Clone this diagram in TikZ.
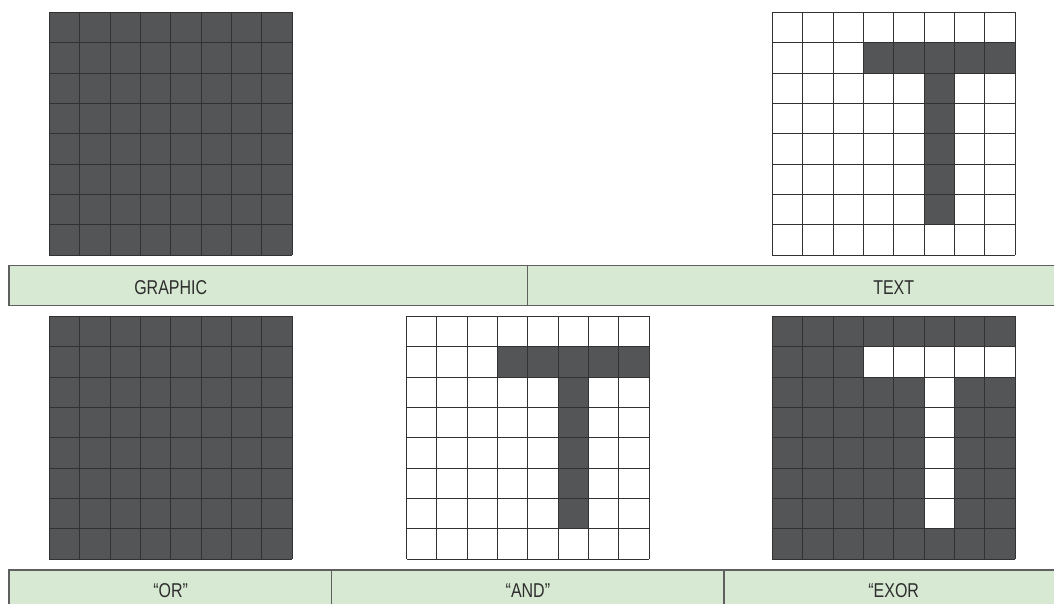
\documentclass[tikz,border=0pt]{standalone}
\usepackage{fontspec}
\newfontfamily\labelfont[FakeStretch=0.8]{Liberation Sans}
\definecolor{celldark}{RGB}{84,85,87}
\definecolor{barfill}{RGB}{215,233,210}
\definecolor{gridcol}{RGB}{50,50,50}
\definecolor{barline}{RGB}{95,95,95}
\definecolor{labelcol}{RGB}{45,45,45}
\tikzset{
  gridline/.style={draw=gridcol, line width=1pt},
  barcell/.style={fill=barfill, draw=barline, line width=1.5pt},
  barlabel/.style={anchor=base, inner sep=0pt, text=labelcol, font=\labelfont\fontsize{20}{24}\selectfont}
}
\newcommand\drawbitgrid[4]{%
  \begin{scope}[shift={(#1,#2)}]
    \fill[#3] (0,0) rectangle (242.8,242.8);
    \fill[#4] (91.05,30.35) rectangle (242.8,60.7);
    \fill[#4] (151.75,60.7) rectangle (182.1,212.45);
    \foreach \i in {0,...,8} {
      \draw[gridline] (\i*30.35,0) -- (\i*30.35,242.8);
      \draw[gridline] (0,\i*30.35) -- (242.8,\i*30.35);
    }
  \end{scope}}
\begin{document}
\begin{tikzpicture}[x=1pt,y=-1pt]
\useasboundingbox (0,0) rectangle (1054,603);
\clip (0,0) rectangle (1054,603);
% grids
\drawbitgrid{49.3}{12.3}{celldark}{celldark}
\drawbitgrid{772.3}{12.3}{white}{celldark}
\drawbitgrid{49.3}{316.3}{celldark}{celldark}
\drawbitgrid{406.5}{316.3}{white}{celldark}
\drawbitgrid{772.3}{316.3}{celldark}{white}
% top bar
\draw[barcell] (9,265.5) rectangle (527.3,305.5);
\draw[barcell] (527.3,265.5) rectangle (1060,305.5);
% bottom bar
\draw[barcell] (9,570) rectangle (331.7,612);
\draw[barcell] (331.7,570) rectangle (724,612);
\draw[barcell] (724,570) rectangle (1060,612);
% labels
\node[barlabel] (graphic) at (170.7,294.2) {GRAPHIC};
\node[barlabel] (text) at (893.7,294.2) {TEXT};
\node[barlabel] (or) at (170.7,597.7) {“OR”};
\node[barlabel] (and) at (527.9,597.7) {“AND”};
\node[barlabel] (exor) at (893.7,597.7) {“EXOR};
\end{tikzpicture}
\end{document}
